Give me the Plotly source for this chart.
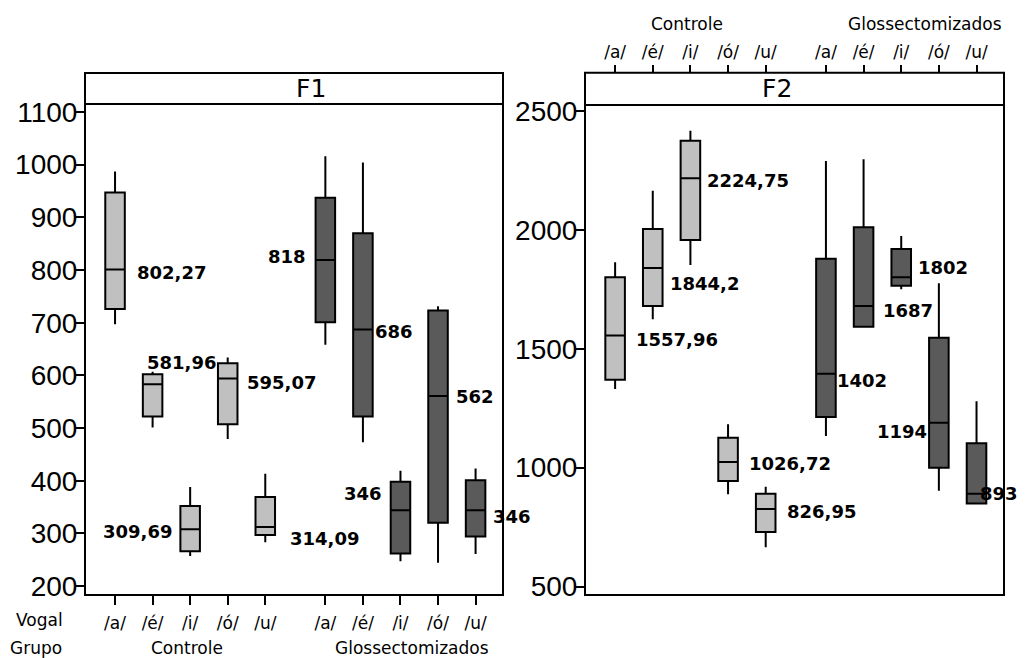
import plotly.graph_objects as go

# ---------------- data ----------------
groups = ["Controle", "Glossectomizados"]
vowels = ["/a/", "/é/", "/i/", "/ó/", "/u/"]

# F1 (Hz) – per group, per vowel
f1_ctrl_low = [697, 501, 257, 479, 283]
f1_ctrl_q1 = [726, 522, 266, 507, 297]
f1_ctrl_med = [801, 583, 308, 594, 312]
f1_ctrl_q3 = [947, 602, 352, 623, 369]
f1_ctrl_high = [987, 607, 388, 634, 413]

f1_glos_low = [658, 473, 247, 244, 261]
f1_glos_q1 = [701, 522, 262, 320, 294]
f1_glos_med = [819, 687, 344, 561, 344]
f1_glos_q3 = [937, 870, 398, 723, 401]
f1_glos_high = [1016, 1004, 419, 731, 423]

f1_ctrl_labels = ["802,27", "581,96", "309,69", "595,07", "314,09"]
f1_glos_labels = ["818", "686", "346", "562", "346"]

# F2 (Hz)
f2_ctrl_low = [1331, 1624, 1852, 888, 666]
f2_ctrl_q1 = [1369, 1679, 1957, 944, 730]
f2_ctrl_med = [1555, 1839, 2216, 1024, 826]
f2_ctrl_q3 = [1800, 2003, 2374, 1126, 890]
f2_ctrl_high = [1863, 2164, 2416, 1182, 920]

f2_glos_low = [1133, 1588, 1750, 903, 850]
f2_glos_q1 = [1213, 1592, 1765, 1000, 850]
f2_glos_med = [1395, 1679, 1800, 1189, 890]
f2_glos_q3 = [1878, 2010, 1919, 1546, 1103]
f2_glos_high = [2289, 2296, 1974, 1775, 1279]

f2_ctrl_labels = ["1557,96", "1844,2", "2224,75", "1026,72", "826,95"]
f2_glos_labels = ["1402", "1687", "1802", "1194", "893"]

f1_ticks = [200, 300, 400, 500, 600, 700, 800, 900, 1000, 1100]
f2_ticks = [500, 1000, 1500, 2000, 2500]

# ---------------- styling ----------------
GROUP_GAP = 0.6
pos_ctrl = [i for i in range(len(vowels))]
pos_glos = [len(vowels) + GROUP_GAP + i for i in range(len(vowels))]
all_pos = pos_ctrl + pos_glos
all_text = vowels + vowels

LIGHT = "#C0C0C0"
DARK = "#5A5A5A"
FONT = "DejaVu Sans"
TICKFONT = "Liberation Sans"
OFF = 8                      # page body margin
W, H = 1028 - OFF, 658 - OFF


def px(x):
    return (x - OFF) / W


def py(y):
    return 1 - (y - OFF) / H


# label placement (side, xshift px, yshift px)
f1_ctrl_place = [("left", 20, -3), ("center", 29, 22), ("right", -16, -2), ("left", 17, -4), ("left", 23, -11)]
f1_glos_place = [("right", -17, 4), ("left", 10, -2), ("right", -16, 17), ("left", 16, -1), ("left", 15, -6)]
f2_ctrl_place = [("left", 19, -4), ("left", 15, -15), ("left", 15, -2), ("left", 19, -2), ("left", 19, -2)]
f2_glos_place = [("left", 9, -7), ("left", 17, -4), ("left", 15, 10), ("right", -10, -9), ("left", 1, 0)]

fig = go.Figure()


def add_boxes(xa, ya, pos, low, q1, med, q3, high, color):
    fig.add_trace(go.Box(
        x=pos, lowerfence=low, q1=q1, median=med, q3=q3, upperfence=high,
        xaxis=xa, yaxis=ya, fillcolor=color, line=dict(color="black", width=2),
        whiskerwidth=0, width=0.52, boxpoints=False, hoverinfo="skip",
        showlegend=False,
    ))


add_boxes("x", "y", pos_ctrl, f1_ctrl_low, f1_ctrl_q1, f1_ctrl_med, f1_ctrl_q3, f1_ctrl_high, LIGHT)
add_boxes("x", "y", pos_glos, f1_glos_low, f1_glos_q1, f1_glos_med, f1_glos_q3, f1_glos_high, DARK)
add_boxes("x2", "y2", pos_ctrl, f2_ctrl_low, f2_ctrl_q1, f2_ctrl_med, f2_ctrl_q3, f2_ctrl_high, LIGHT)
add_boxes("x2", "y2", pos_glos, f2_glos_low, f2_glos_q1, f2_glos_med, f2_glos_q3, f2_glos_high, DARK)

annotations = []


def add_labels(xref, yref, pos, med, labels, place):
    for p, m, t, (side, xs, ys) in zip(pos, med, labels, place):
        annotations.append(dict(
            x=p, y=m, xref=xref, yref=yref, text=t, showarrow=False,
            xanchor=side, yanchor="middle", xshift=xs, yshift=ys,
            font=dict(family=FONT, size=18, color="black", weight="bold"),
        ))


add_labels("x", "y", pos_ctrl, f1_ctrl_med, f1_ctrl_labels, f1_ctrl_place)
add_labels("x", "y", pos_glos, f1_glos_med, f1_glos_labels, f1_glos_place)
add_labels("x2", "y2", pos_ctrl, f2_ctrl_med, f2_ctrl_labels, f2_ctrl_place)
add_labels("x2", "y2", pos_glos, f2_glos_med, f2_glos_labels, f2_glos_place)

small = dict(family=FONT, size=17, color="black")

# group labels (left bottom)
annotations.append(dict(x=pos_ctrl[2], y=py(648), xref="x", yref="paper", yanchor="middle",
                        text=groups[0], showarrow=False, font=small, xshift=-3))
annotations.append(dict(x=pos_glos[2], y=py(648), xref="x", yref="paper", yanchor="middle",
                        text=groups[1], showarrow=False, font=small, xshift=12))
# row titles
annotations.append(dict(x=px(39), y=py(620), xref="paper", yref="paper", text="Vogal",
                        showarrow=False, font=small, xanchor="center", yanchor="middle"))
annotations.append(dict(x=px(36), y=py(648), xref="paper", yref="paper", text="Grupo",
                        showarrow=False, font=small, xanchor="center", yanchor="middle"))
# group labels (right top)
annotations.append(dict(x=pos_ctrl[2], y=py(24), xref="x2", yref="paper", yanchor="middle",
                        text=groups[0], showarrow=False, font=small, xshift=-3))
annotations.append(dict(x=pos_glos[2], y=py(24), xref="x2", yref="paper", yanchor="middle",
                        text=groups[1], showarrow=False, font=small, xshift=24))

# panel geometry (paper fractions)
L_X0, L_X1 = px(85), px(503)
R_X0, R_X1 = px(585), px(1004)
L_Y0, L_Y1 = py(595), py(104)
R_Y0, R_Y1 = py(595), py(105)
L_S1 = py(73)
R_S1 = py(72.7)

annotations.append(dict(x=(L_X0 + L_X1) / 2, y=(L_Y1 + L_S1) / 2, xref="paper", yref="paper",
                        text="F1", showarrow=False, yanchor="middle",
                        font=dict(family=FONT, size=25, color="black")))
annotations.append(dict(x=(R_X0 + R_X1) / 2, y=(R_Y1 + R_S1) / 2, xref="paper", yref="paper",
                        text="F2", showarrow=False, yanchor="middle",
                        font=dict(family=FONT, size=25, color="black")))

shapes = [
    dict(type="rect", xref="paper", yref="paper", x0=L_X0, x1=L_X1, y0=L_Y0, y1=L_Y1,
         line=dict(color="black", width=2)),
    dict(type="rect", xref="paper", yref="paper", x0=L_X0, x1=L_X1, y0=L_Y1, y1=L_S1,
         line=dict(color="black", width=2)),
    dict(type="rect", xref="paper", yref="paper", x0=R_X0, x1=R_X1, y0=R_Y0, y1=R_Y1,
         line=dict(color="black", width=2)),
    dict(type="rect", xref="paper", yref="paper", x0=R_X0, x1=R_X1, y0=R_Y1, y1=R_S1,
         line=dict(color="black", width=2)),
]

XR = [-0.8, 10.33]
common = dict(showgrid=False, zeroline=False, showline=False, ticks="outside",
              tickwidth=1.5, tickcolor="black", automargin=False)

fig.update_layout(
    width=W, height=H,
    margin=dict(l=0, r=0, t=0, b=0, autoexpand=False),
    paper_bgcolor="white", plot_bgcolor="white",
    boxmode="overlay",
    showlegend=False,
    annotations=annotations,
    shapes=shapes,
    xaxis=dict(domain=[L_X0, L_X1], anchor="y", range=XR, ticklen=9,
               tickvals=all_pos, ticktext=all_text, tickfont=small, ticklabelstandoff=4, **common),
    yaxis=dict(domain=[L_Y0, L_Y1], anchor="x", range=[183, 1115.2], ticklen=8,
               tickvals=f1_ticks, tickfont=dict(family=TICKFONT, size=28, color="black"),
               ticklabelstandoff=-7, **common),
    xaxis2=dict(domain=[R_X0, R_X1], anchor="free", position=R_S1, side="top", range=XR,
                ticklen=8, tickvals=all_pos, ticktext=all_text, tickfont=small,
                ticklabelstandoff=0, **common),
    yaxis2=dict(domain=[R_Y0, R_Y1], anchor="x2", range=[465, 2524], ticklen=8,
                tickvals=f2_ticks, tickfont=dict(family=TICKFONT, size=28, color="black"),
                ticklabelstandoff=-7, **common),
)

fig.write_html("out.html")
